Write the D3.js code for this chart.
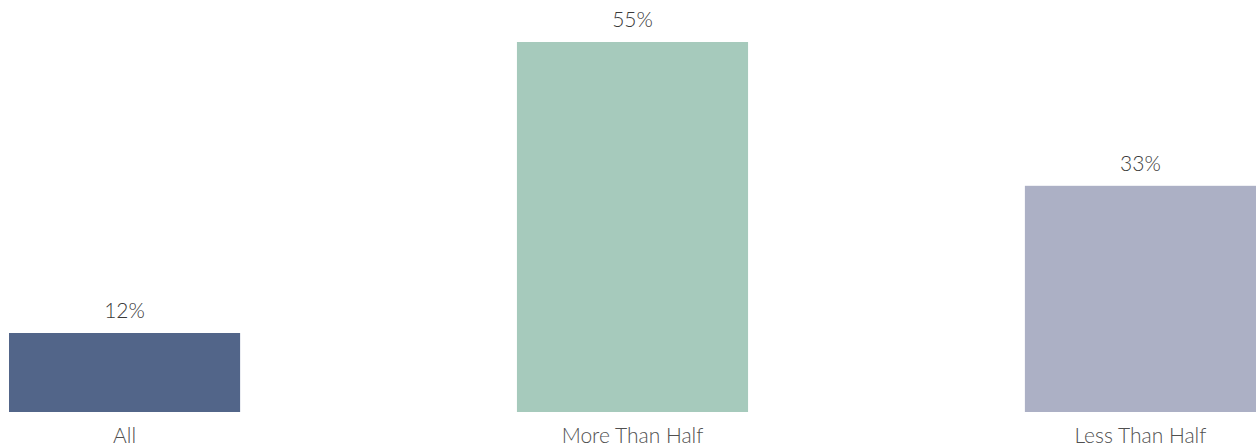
<!DOCTYPE html>
<html>
<head>
<meta charset="utf-8">
<script src="https://cdn.jsdelivr.net/npm/d3@7"></script>
<style>
  html, body { margin: 0; padding: 0; background: #ffffff; }
  svg { display: block; }
</style>
</head>
<body>
<svg id="chart" width="1256" height="448"></svg>
<script>
const categories = ["All", "More Than Half", "Less Than Half"];
const values = [11.7, 54.8, 33.5];
const valueLabels = ["12%", "55%", "33%"];
const colors = ["#526589", "#a6cabc", "#acb0c5"];

const svg = d3.select("#chart");

const x = d3.scaleBand()
  .domain(categories)
  .range([9, 1256])
  .paddingInner(0.545)
  .paddingOuter(0);

const y = d3.scaleLinear()
  .domain([0, d3.max(values)])
  .range([412, 42]);

const font = "Lato, 'Open Sans', sans-serif";

svg.selectAll("rect.bar")
  .data(categories)
  .join("rect")
  .attr("class", "bar")
  .attr("x", d => x(d))
  .attr("width", x.bandwidth())
  .attr("y", (d, i) => y(values[i]))
  .attr("height", (d, i) => y(0) - y(values[i]))
  .attr("fill", (d, i) => colors[i]);

svg.selectAll("text.val")
  .data(categories)
  .join("text")
  .attr("class", "val")
  .attr("x", d => x(d) + x.bandwidth() / 2)
  .attr("y", (d, i) => y(values[i]) - 15)
  .attr("text-anchor", "middle")
  .attr("font-family", font)
  .attr("font-weight", 300)
  .attr("font-size", 21)
  .attr("fill", "#3a3a3a")
  .text((d, i) => valueLabels[i]);

const xAxis = d3.axisBottom(x).tickSize(0).tickPadding(0);
const gx = svg.append("g")
  .attr("transform", `translate(0,${y(0)})`)
  .call(xAxis);
gx.select(".domain").remove();
gx.selectAll("text")
  .attr("dy", null)
  .attr("y", 31)
  .attr("font-family", font)
  .attr("font-weight", 300)
  .attr("font-size", 21)
  .attr("fill", "#505050");
</script>
</body>
</html>
